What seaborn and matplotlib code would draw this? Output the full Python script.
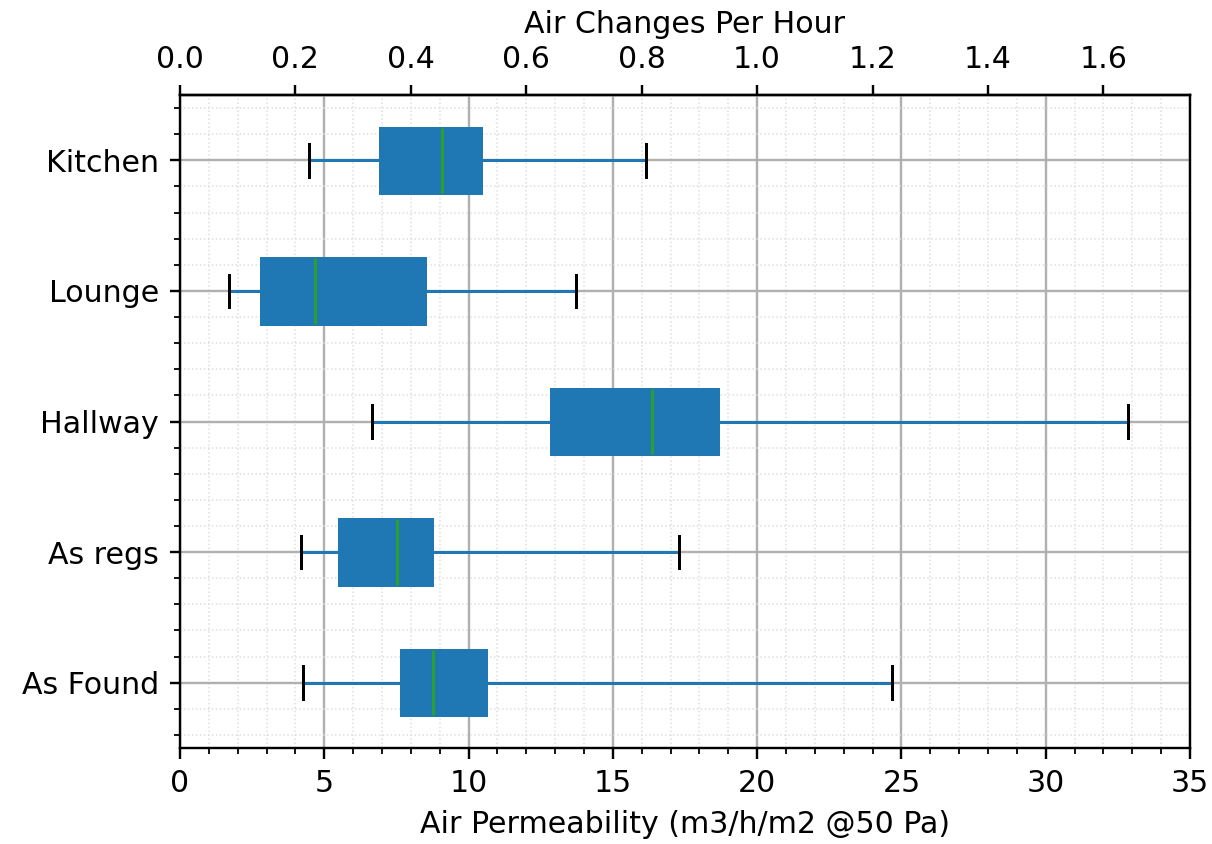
import numpy as np
import pandas as pd
import matplotlib
matplotlib.use('Agg')
import matplotlib.pyplot as plt
import seaborn as sns
from matplotlib.ticker import MultipleLocator

# Five-number summaries (min, Q1, median, Q3, max)
rooms = ['Kitchen', 'Lounge', 'Hallway', 'As regs', 'As Found']
lows = [4.47, 1.70, 6.65, 4.19, 4.26]
q1s = [6.93, 2.81, 12.86, 5.51, 7.66]
medians = [9.08, 4.68, 16.36, 7.52, 8.77]
q3s = [10.43, 8.49, 18.64, 8.73, 10.60]
highs = [16.15, 13.72, 32.85, 17.29, 24.67]

# 5 points per room -> quartiles come out exactly as read
rows = []
for i, room in enumerate(rooms):
    for v in (lows[i], q1s[i], medians[i], q3s[i], highs[i]):
        rows.append({'room': room, 'value': v})
df = pd.DataFrame(rows)

DPI = 216
fig, ax = plt.subplots(figsize=(1212 / DPI, 844 / DPI), dpi=DPI)
fig.subplots_adjust(left=0.1485, right=0.9818, top=0.8874, bottom=0.1137)

blue = '#1f77b4'
sns.boxplot(data=df, x='value', y='room', order=rooms, orient='h',
            whis=(0, 100), width=0.5, color=blue, saturation=1,
            linecolor=blue, linewidth=1, showfliers=False,
            medianprops={'color': '#2ca02c'},
            capprops={'color': 'black'},
            whiskerprops={'color': blue},
            ax=ax)

ax.set_xlim(0, 35)
ax.set_ylim(4.5, -0.5)
ax.xaxis.set_major_locator(MultipleLocator(5))
ax.xaxis.set_minor_locator(MultipleLocator(1))
ax.yaxis.set_minor_locator(MultipleLocator(0.2))
ax.set_axisbelow(True)
ax.grid(which='major', color='#b0b0b0', linewidth=0.8)
ax.grid(which='minor', color='#dddddd', linestyle=':', linewidth=0.5)
for s in ax.spines.values():
    s.set_visible(True)
    s.set_color('black')

ax.set_xlabel('Air Permeability (m3/h/m2 @50 Pa)', fontsize=10)
ax.set_ylabel('')
ax.tick_params(labelsize=10)

# top axis: air changes per hour (= permeability / 20)
top = ax.secondary_xaxis('top', functions=(lambda x: x / 20, lambda x: x * 20))
top.set_xticks(np.round(np.arange(0, 1.61, 0.2), 1))
top.set_xlabel('Air Changes Per Hour', fontsize=10)
top.tick_params(labelsize=10)

plt.savefig('out.png', dpi=DPI)
